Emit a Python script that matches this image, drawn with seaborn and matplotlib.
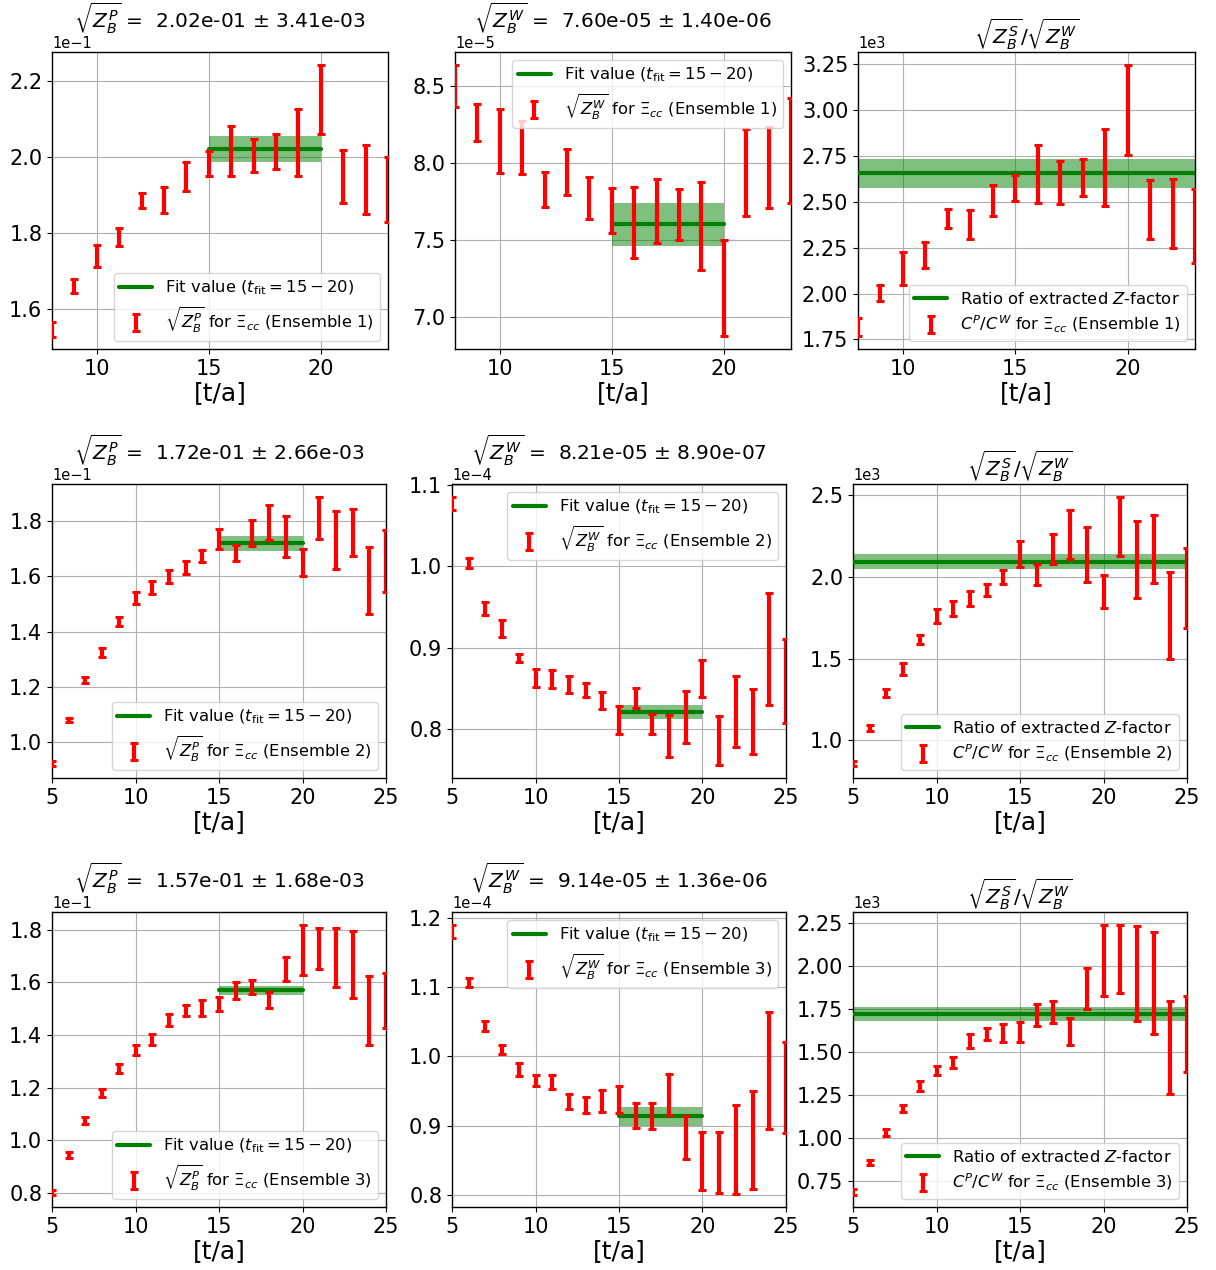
import numpy as np
import matplotlib
matplotlib.use("Agg")
import matplotlib.pyplot as plt
import seaborn as sns

# ---------------- data ----------------
t_ens1 = list(range(8, 24))
t_ens23 = list(range(5, 26))

# sqrt(Z_B^P) effective values (mantissa, scale 1e-1)
zp_ens1 = [1.547, 1.660, 1.739, 1.790, 1.886, 1.886, 1.948, 1.983, 2.016, 2.004, 2.014, 2.038, 2.151, 1.949, 1.941, 1.914]
zp_ens1_err = [0.020, 0.018, 0.029, 0.024, 0.020, 0.034, 0.038, 0.032, 0.065, 0.044, 0.046, 0.089, 0.090, 0.070, 0.090, 0.086]
zp_ens2 = [0.922, 1.080, 1.225, 1.325, 1.436, 1.522, 1.561, 1.599, 1.633, 1.674, 1.735, 1.685, 1.756, 1.796, 1.745, 1.651, 1.812, 1.732, 1.759, 1.585, 1.657]
zp_ens2_err = [0.008, 0.008, 0.011, 0.015, 0.017, 0.021, 0.024, 0.023, 0.024, 0.023, 0.036, 0.028, 0.047, 0.063, 0.075, 0.048, 0.077, 0.104, 0.086, 0.121, 0.112]
zp_ens3 = [0.803, 0.944, 1.076, 1.180, 1.273, 1.342, 1.384, 1.458, 1.493, 1.504, 1.517, 1.568, 1.582, 1.532, 1.651, 1.722, 1.730, 1.694, 1.668, 1.493, 1.531]
zp_ens3_err = [0.010, 0.011, 0.013, 0.015, 0.018, 0.019, 0.021, 0.023, 0.020, 0.030, 0.027, 0.032, 0.028, 0.030, 0.047, 0.095, 0.078, 0.113, 0.128, 0.130, 0.104]

# sqrt(Z_B^W) effective values (mantissa, scale 1e-5 / 1e-4)
zw_ens1 = [8.500, 8.263, 8.141, 8.100, 7.826, 7.940, 7.770, 7.691, 7.613, 7.686, 7.662, 7.589, 7.187, 7.935, 7.970, 8.079]
zw_ens1_err = [0.136, 0.121, 0.210, 0.170, 0.113, 0.152, 0.138, 0.146, 0.231, 0.210, 0.165, 0.287, 0.314, 0.282, 0.262, 0.339]
zw_ens2 = [1.077, 1.0045, 0.9485, 0.9236, 0.887, 0.8625, 0.8617, 0.8545, 0.8484, 0.835, 0.811, 0.838, 0.8059, 0.7913, 0.8149, 0.8623, 0.7856, 0.8216, 0.809, 0.8985, 0.8588]
zw_ens2_err = [0.008, 0.006, 0.008, 0.010, 0.005, 0.011, 0.011, 0.0106, 0.0086, 0.011, 0.017, 0.0127, 0.012, 0.026, 0.032, 0.023, 0.030, 0.044, 0.040, 0.069, 0.052]
zw_ens3 = [1.1798, 1.1068, 1.0437, 1.0098, 0.9808, 0.965, 0.963, 0.9345, 0.9297, 0.9354, 0.938, 0.9152, 0.914, 0.9445, 0.8833, 0.849, 0.8468, 0.866, 0.8797, 0.9798, 0.9556]
zw_ens3_err = [0.009, 0.0065, 0.0072, 0.006, 0.009, 0.0077, 0.0096, 0.011, 0.0118, 0.0156, 0.019, 0.018, 0.019, 0.0295, 0.031, 0.042, 0.044, 0.064, 0.071, 0.084, 0.0655]

# C^P / C^W ratio (mantissa, scale 1e3)
ratio_ens1 = [1.817, 2.004, 2.136, 2.211, 2.408, 2.375, 2.506, 2.574, 2.649, 2.606, 2.631, 2.686, 2.999, 2.458, 2.436, 2.367]
ratio_ens1_err = [0.050, 0.045, 0.091, 0.071, 0.050, 0.080, 0.085, 0.070, 0.158, 0.116, 0.100, 0.209, 0.245, 0.163, 0.186, 0.200]
ratio_ens2 = [0.857, 1.076, 1.290, 1.437, 1.616, 1.763, 1.808, 1.868, 1.921, 2.000, 2.142, 2.013, 2.169, 2.262, 2.139, 1.913, 2.307, 2.108, 2.174, 1.764, 1.931]
ratio_ens2_err = [0.017, 0.018, 0.022, 0.034, 0.027, 0.044, 0.046, 0.045, 0.039, 0.045, 0.081, 0.064, 0.092, 0.151, 0.170, 0.101, 0.181, 0.234, 0.209, 0.267, 0.246]
ratio_ens3 = [0.685, 0.854, 1.032, 1.171, 1.302, 1.390, 1.439, 1.564, 1.606, 1.610, 1.617, 1.715, 1.732, 1.620, 1.870, 2.033, 2.043, 1.958, 1.901, 1.528, 1.605]
ratio_ens3_err = [0.0165, 0.0146, 0.019, 0.022, 0.027, 0.026, 0.032, 0.041, 0.034, 0.053, 0.058, 0.065, 0.063, 0.078, 0.119, 0.209, 0.199, 0.279, 0.296, 0.271, 0.223]

# fit results (value, error) in physical units
fit_zp = [(2.02e-01, 3.41e-03), (1.72e-01, 2.66e-03), (1.57e-01, 1.68e-03)]
fit_zw = [(7.60e-05, 1.40e-06), (8.21e-05, 8.90e-07), (9.14e-05, 1.36e-06)]
fit_ratio = [(2.655e3, 0.080e3), (2.095e3, 0.045e3), (1.720e3, 0.042e3)]
fit_range = (15, 20)

scale_zp = [1e-1, 1e-1, 1e-1]
scale_zw = [1e-5, 1e-4, 1e-4]
scale_ratio = [1e3, 1e3, 1e3]

# ---------------- style ----------------
sns.set_theme(style="ticks", rc={
    "axes.grid": True,
    "grid.color": "#b0b0b0",
    "grid.linewidth": 0.8,
    "axes.edgecolor": "black",
    "axes.linewidth": 1.0,
    "xtick.color": "black",
    "ytick.color": "black",
    "text.color": "black",
    "axes.labelcolor": "black",
})
plt.rcParams["font.family"] = ["DejaVu Sans"]
plt.rcParams["mathtext.fontset"] = "dejavusans"

fig = plt.figure(figsize=(12.16, 12.70), dpi=100)
W_PX, H_PX = 1216, 1270

# panel boxes in pixels: (left, top, right, bottom)
boxes = [
    [(52, 52, 388, 349), (455, 52, 791, 349), (858, 52, 1195, 349)],
    [(52, 484, 386, 778), (452, 484, 786, 778), (853, 484, 1187, 778)],
    [(52, 912, 386, 1207), (452, 912, 786, 1207), (853, 912, 1187, 1207)],
]

ylims = [
    [(1.495, 2.276), (6.79, 8.72), (1.698, 3.316)],
    [(0.870, 1.935), (0.7397, 1.1014), (0.769, 2.570)],
    [(0.747, 1.867), (0.783, 1.208), (0.597, 2.316)],
]
xlims = [(8, 23), (5, 25), (5, 25)]

t_sets = [t_ens1, t_ens23, t_ens23]
zp_sets = [(zp_ens1, zp_ens1_err), (zp_ens2, zp_ens2_err), (zp_ens3, zp_ens3_err)]
zw_sets = [(zw_ens1, zw_ens1_err), (zw_ens2, zw_ens2_err), (zw_ens3, zw_ens3_err)]
ratio_sets = [(ratio_ens1, ratio_ens1_err), (ratio_ens2, ratio_ens2_err), (ratio_ens3, ratio_ens3_err)]

FIT_LABEL = r"Fit value ($t_{\rm fit} = 15-20$)"


def make_axes(box):
    l, t, r, b = box
    return fig.add_axes([l / W_PX, 1 - b / H_PX, (r - l) / W_PX, (b - t) / H_PX])


def draw_points(ax, t, vals, errs, scale, label):
    y = np.asarray(vals) * scale
    e = np.asarray(errs) * scale
    return ax.errorbar(t, y, yerr=e, fmt="none", ecolor="red", elinewidth=3,
                       capsize=3, capthick=2.2, label=label, zorder=4)


def finish(ax, xlim, ylim, scale, title, legend_loc):
    ax.set_xlim(*xlim)
    ax.set_ylim(ylim[0] * scale, ylim[1] * scale)
    ax.ticklabel_format(axis="y", style="sci", scilimits=(0, 0))
    ax.yaxis.get_offset_text().set_fontsize(10.5)
    ax.tick_params(labelsize=15, direction="out", length=3.5, width=0.8)
    ax.set_xlabel("[t/a]", fontsize=18, labelpad=2)
    ax.set_title(title, fontsize=14.5, pad=5)
    h, l = ax.get_legend_handles_labels()
    ax.legend(h, l, loc=legend_loc, fontsize=11.8, framealpha=0.8, edgecolor="#cccccc",
              labelspacing=0.45, borderpad=0.35)


for row in range(3):
    t = t_sets[row]
    ens = row + 1

    # --- sqrt(Z_B^P) ---
    ax = make_axes(boxes[row][0])
    val, err = fit_zp[row]
    sns.lineplot(x=list(fit_range), y=[val, val], color="green", lw=3, ax=ax,
                 label=FIT_LABEL, zorder=3)
    ax.fill_between(list(fit_range), val - err, val + err, color="green", alpha=0.5, lw=0, zorder=2)
    draw_points(ax, t, *zp_sets[row], scale_zp[row],
                r"$\sqrt{Z_B^P}$ for $\Xi_{cc}$ (Ensemble %d)" % ens)
    finish(ax, xlims[row], ylims[row][0], scale_zp[row],
           r"$\sqrt{Z_B^P}$ =  %.2e ± %.2e" % (val, err), "lower right")

    # --- sqrt(Z_B^W) ---
    ax = make_axes(boxes[row][1])
    val, err = fit_zw[row]
    sns.lineplot(x=list(fit_range), y=[val, val], color="green", lw=3, ax=ax,
                 label=FIT_LABEL, zorder=3)
    ax.fill_between(list(fit_range), val - err, val + err, color="green", alpha=0.5, lw=0, zorder=2)
    draw_points(ax, t, *zw_sets[row], scale_zw[row],
                r"$\sqrt{Z_B^W}$ for $\Xi_{cc}$ (Ensemble %d)" % ens)
    finish(ax, xlims[row], ylims[row][1], scale_zw[row],
           r"$\sqrt{Z_B^W}$ =  %.2e ± %.2e" % (val, err), "upper right")

    # --- ratio ---
    ax = make_axes(boxes[row][2])
    val, err = fit_ratio[row]
    ax.axhspan(val - err, val + err, color="green", alpha=0.5, lw=0, zorder=2)
    ax.axhline(val, color="green", lw=3, label=r"Ratio of extracted $Z$-factor", zorder=3)
    draw_points(ax, t, *ratio_sets[row], scale_ratio[row],
                r"$C^P/C^W$ for $\Xi_{cc}$ (Ensemble %d)" % ens)
    finish(ax, xlims[row], ylims[row][2], scale_ratio[row],
           r"$\sqrt{Z_B^S}/\sqrt{Z_B^W}$", "lower right")

fig.savefig("out.png", dpi=100)
